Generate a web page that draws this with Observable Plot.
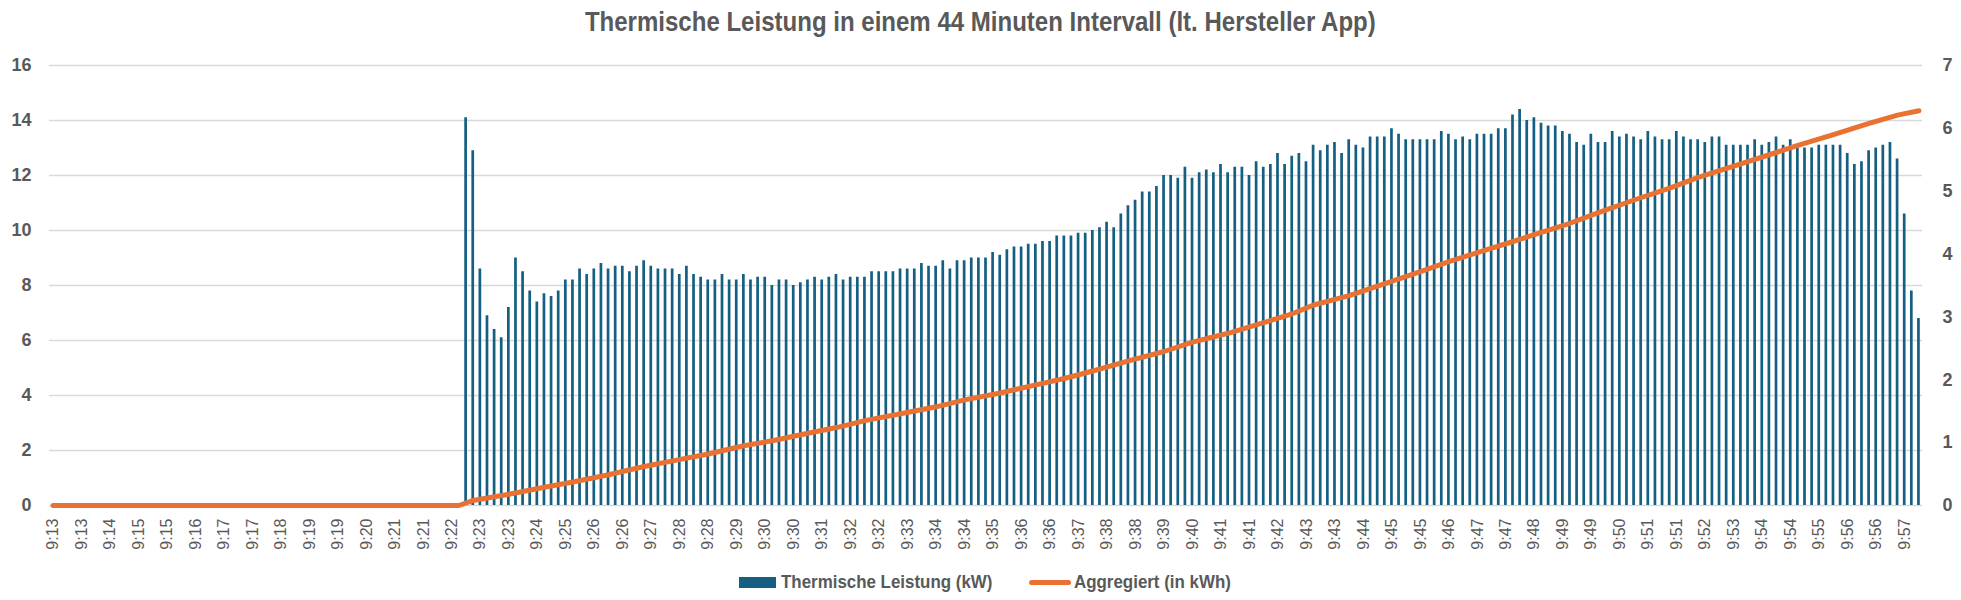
<!DOCTYPE html>
<html>
<head>
<meta charset="utf-8">
<script src="https://cdn.jsdelivr.net/npm/d3@7"></script>
<script src="https://cdn.jsdelivr.net/npm/@observablehq/plot@0.6"></script>
<style>
  html, body { margin: 0; padding: 0; background: #fff; }
  body { width: 1961px; height: 600px; overflow: hidden; position: relative;
         font-family: "Liberation Sans", Arial, sans-serif; color: #595959; }
  #title { position: absolute; left: 0; top: 0; width: 1961px; height: 44px; line-height: 44px;
           text-align: center; font-weight: bold; font-size: 27px; color: #595959; }
  #title span { display: inline-block; transform: scaleX(0.89); transform-origin: center; white-space: nowrap; }
  #chart { position: absolute; left: 0; top: 44px; }
  #legend { position: absolute; left: 0; top: 564px; width: 1961px; height: 36px; }
  .sw { position: absolute; }
  .lt { position: absolute; top: 0; height: 36px; line-height: 36px; font-weight: bold; font-size: 19px;
        color: #595959; white-space: nowrap; transform: scaleX(0.89); transform-origin: left center; }
  #chart svg [aria-label="x-axis tick label"] { font-family: "Liberation Sans", Arial, sans-serif; font-size: 16px; }
  #chart svg [aria-label="y-axis tick label"] { font-family: "Liberation Sans", Arial, sans-serif; font-size: 18px; font-weight: bold; }
</style>
</head>
<body>
<div id="title"><span>Thermische Leistung in einem 44 Minuten Intervall (lt. Hersteller App)</span></div>
<div id="chart"></div>
<div id="legend">
  <div class="sw" style="left:739px;top:13px;width:37px;height:11px;background:#156082;"></div>
  <div class="lt" style="left:781px;">Thermische Leistung (kW)</div>
  <div class="sw" style="left:1029px;top:15.5px;width:42px;height:5px;border-radius:3px;background:#e97132;"></div>
  <div class="lt" style="left:1074px;">Aggregiert (in kWh)</div>
</div>
<script>
// ---- data ----
const categoryCount = 263;               // 10-second samples, 9:13 … 9:57
const firstBarIndex = 58;                // power is 0 before this sample
const powerKW = [
  14.1, 12.9, 8.6, 6.9, 6.4, 6.1, 7.2, 9.0, 8.5, 7.8,
  7.4, 7.7, 7.6, 7.8, 8.2, 8.2, 8.6, 8.4, 8.6, 8.8,
  8.6, 8.7, 8.7, 8.5, 8.7, 8.9, 8.7, 8.6, 8.6, 8.6,
  8.4, 8.7, 8.4, 8.3, 8.2, 8.2, 8.4, 8.2, 8.2, 8.4,
  8.2, 8.3, 8.3, 8.0, 8.2, 8.2, 8.0, 8.1, 8.2, 8.3,
  8.2, 8.3, 8.4,
  8.2, 8.3, 8.3, 8.3, 8.5, 8.5, 8.5, 8.5, 8.6, 8.6,
  8.6, 8.8, 8.7, 8.7, 8.9, 8.6, 8.9, 8.9, 9.0, 9.0,
  9.0, 9.2, 9.1, 9.3, 9.4, 9.4, 9.5, 9.5, 9.6, 9.6, 9.8,
  9.8, 9.8, 9.9, 9.9, 10.0, 10.1, 10.3, 10.1, 10.6, 10.9,
  11.1, 11.4, 11.4, 11.6, 12.0, 12.0, 11.9, 12.3, 11.9, 12.1,
  12.2, 12.1, 12.4, 12.1, 12.3, 12.3, 12.0, 12.5, 12.3, 12.4,
  12.8, 12.4,
  12.7, 12.8, 12.5, 13.1, 12.9, 13.1, 13.2, 12.8, 13.3, 13.1,
  13.0, 13.4, 13.4, 13.4, 13.7, 13.5, 13.3, 13.3, 13.3, 13.3,
  13.3, 13.6, 13.5, 13.3, 13.4, 13.3, 13.5, 13.5, 13.5, 13.7, 13.7,
  14.2, 14.4, 14.0, 14.1, 13.9, 13.8, 13.8, 13.6, 13.5, 13.2,
  13.1, 13.5, 13.2, 13.2, 13.6, 13.4, 13.5, 13.4, 13.3, 13.6,
  13.4, 13.3, 13.3, 13.6, 13.4, 13.3, 13.3, 13.2, 13.4, 13.4,
  13.1, 13.1, 13.1, 13.1, 13.3, 13.1, 13.2, 13.4, 13.1, 13.3,
  13.0, 13.0, 13.0, 13.1, 13.1, 13.1, 13.1, 12.8, 12.4, 12.5,
  12.9, 13.0, 13.1, 13.2, 12.6, 10.6, 7.8, 6.8
];
// aggregated energy (kWh), read at sample indices
const aggIndex = [0, 57, 59, 64, 69, 73, 78, 83, 87, 92, 97, 101, 106, 110,
  114, 119, 124, 128, 133, 138, 142, 146, 151, 156, 160, 165, 170, 174,
  177, 182, 187, 192, 196, 201, 205, 208, 213, 217, 222, 227, 231, 236,
  241, 245, 250, 255, 259, 262];
const aggKWh = [0, 0, 0.08, 0.18, 0.29, 0.375, 0.49, 0.62, 0.71, 0.82, 0.95, 1.03, 1.15, 1.24,
  1.35, 1.46, 1.57, 1.68, 1.79, 1.92, 2.02, 2.14, 2.30, 2.45, 2.60, 2.74, 2.91, 3.05,
  3.19, 3.34, 3.53, 3.72, 3.88, 4.06, 4.20, 4.31, 4.49, 4.66, 4.86, 5.05, 5.22, 5.40,
  5.58, 5.73, 5.90, 6.08, 6.21, 6.28];
const tickLabels = ["9:13","9:13","9:14","9:15","9:15","9:16","9:17","9:17","9:18","9:19",
  "9:19","9:20","9:21","9:21","9:22","9:23","9:23","9:24","9:25","9:26",
  "9:26","9:27","9:28","9:28","9:29","9:30","9:30","9:31","9:32","9:32",
  "9:33","9:34","9:34","9:35","9:36","9:36","9:37","9:38","9:38","9:39",
  "9:40","9:41","9:41","9:42","9:43","9:43","9:44","9:45","9:45","9:46",
  "9:47","9:47","9:48","9:49","9:49","9:50","9:51","9:51","9:52","9:53",
  "9:54","9:54","9:55","9:56","9:56","9:57"];
const tickStep = 4;
const leftTicks = [0, 2, 4, 6, 8, 10, 12, 14, 16];
const rightTicks = [0, 1, 2, 3, 4, 5, 6, 7];
const leftMax = 16, rightMax = 7;

// ---- tables ----
const categories = d3.range(categoryCount);
const bars = powerKW.map((p, k) => ({i: firstBarIndex + k, p}));
const agg = aggIndex.map((i, k) => ({i, v: aggKWh[k]}));
const xTicks = tickLabels.map((_, k) => k * tickStep);
const toLeft = v => v * leftMax / rightMax;

const chart = Plot.plot({
  width: 1961,
  height: 520,
  marginLeft: 49,
  marginRight: 39,
  marginTop: 21,
  marginBottom: 59,
  style: {background: "#fff", color: "#595959", overflow: "visible"},
  x: {type: "band", domain: categories, paddingInner: 0.62, paddingOuter: 0.31},
  y: {domain: [0, leftMax]},
  marks: [
    Plot.gridY(leftTicks, {stroke: "#d9d9d9", strokeOpacity: 1, strokeWidth: 1.5}),
    Plot.barY(bars, {x: "i", y: "p", fill: "#156082"}),
    Plot.line(agg, {x: "i", y: d => toLeft(d.v), stroke: "#e97132", strokeWidth: 5,
      strokeLinejoin: "round", strokeLinecap: "round"}),
    Plot.axisY(leftTicks, {tickSize: 0, tickPadding: 18, label: null, color: "#595959"}),
    Plot.text(rightTicks, {y: d => toLeft(d), text: d => String(d), frameAnchor: "right",
      dx: 20, textAnchor: "start", fontSize: 18, fontWeight: "bold", fill: "#595959",
      fontFamily: "Liberation Sans, Arial, sans-serif"}),
    Plot.axisX(xTicks, {tickSize: 0, tickPadding: 13, tickRotate: -90, label: null,
      tickFormat: d => tickLabels[d / tickStep], color: "#595959"})
  ]
});
document.getElementById("chart").appendChild(chart);
</script>
</body>
</html>
